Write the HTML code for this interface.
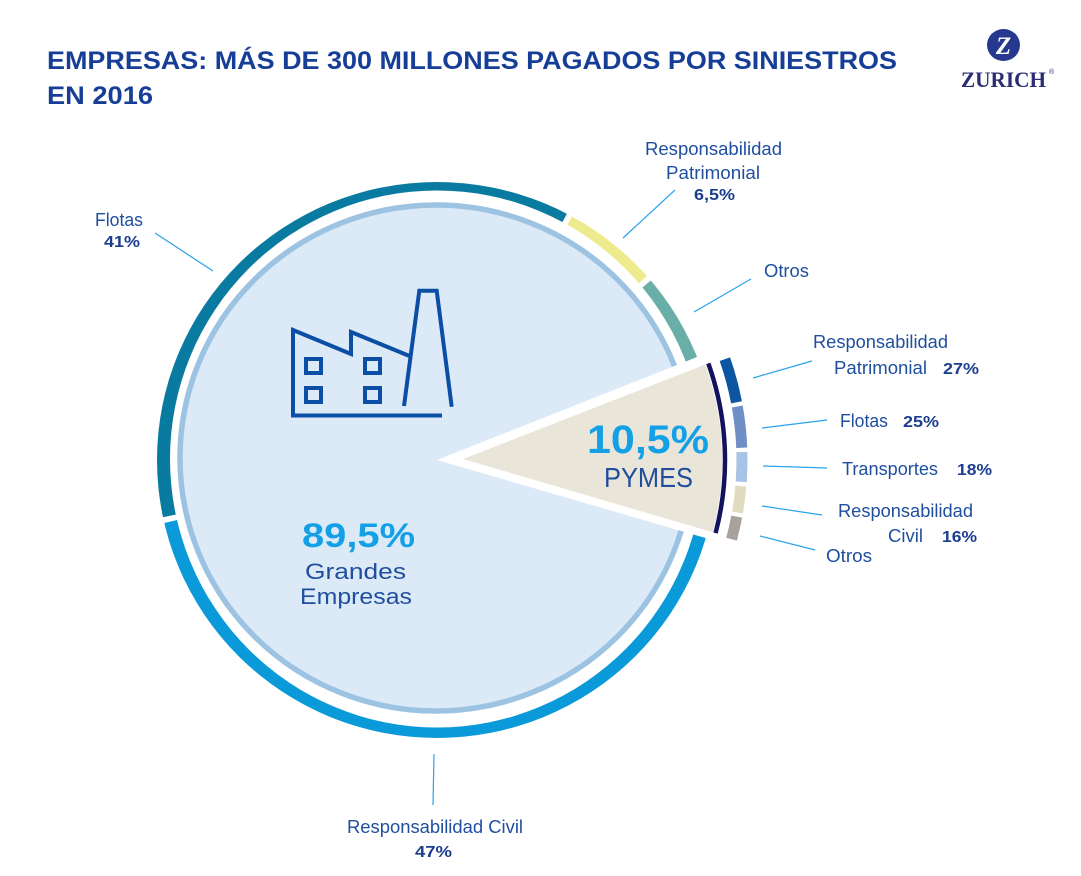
<!DOCTYPE html>
<html>
<head>
<meta charset="utf-8">
<style>
  html,body{margin:0;padding:0;background:#fff;}
  svg{display:block;}
  text{font-family:"Liberation Sans", sans-serif;}
</style>
</head>
<body>
<svg width="1081" height="876" viewBox="0 0 1081 876" xmlns="http://www.w3.org/2000/svg">
  <defs>
    <clipPath id="cFlotas"><polygon points="437,460 104.2,529.5 97,460 196.6,219.6 437,120 595.6,159.2"/></clipPath>
    <clipPath id="cYellow"><polygon points="437,460 601.8,162.6 692.8,236.0"/></clipPath>
    <clipPath id="cOtros"><polygon points="437,460 697.4,241.4 753.1,334.8"/></clipPath>
    <clipPath id="cCivil"><polygon points="437,460 763.5,554.9 607,754.4 437,800 267,754.4 105.7,536.5"/></clipPath>
  </defs>

  <!-- Title -->
  <text x="47" y="69" font-size="25" font-weight="bold" fill="#163e97" textLength="850" lengthAdjust="spacingAndGlyphs">EMPRESAS: MÁS DE 300 MILLONES PAGADOS POR SINIESTROS</text>
  <text x="47" y="104" font-size="25" font-weight="bold" fill="#163e97" textLength="106" lengthAdjust="spacingAndGlyphs">EN 2016</text>

  <!-- Zurich logo -->
  <ellipse cx="1003.5" cy="45" rx="16.5" ry="16" fill="#27398f"/>
  <text x="1003.5" y="54" font-size="25" font-weight="bold" font-style="italic" fill="#ffffff" text-anchor="middle" style="font-family:'Liberation Serif',serif;">Z</text>
  <text x="961" y="87" font-size="22" font-weight="bold" fill="#2b2d73" textLength="85" lengthAdjust="spacingAndGlyphs" style="font-family:'Liberation Serif',serif;">ZURICH</text>
  <text x="1049" y="74" font-size="7" fill="#2b2d73">®</text>

  <!-- Big light fill -->
  <ellipse cx="436" cy="458" rx="256" ry="253" fill="#dceaf7" stroke="#9dc3e3" stroke-width="5.5"/>

  <!-- white wedge cut -->
  <polygon points="437,460 808.9,312.8 880,450 821.1,571.6" fill="#ffffff"/>

  <!-- Outer ring segments -->
  <g fill-rule="evenodd">
    <path clip-path="url(#cFlotas)" fill="#0a7ba0" d="M157 460 a280 278 0 1 0 560 0 a280 278 0 1 0 -560 0 Z M170 459 a267 268.5 0 1 0 534 0 a267 268.5 0 1 0 -534 0 Z"/>
    <path clip-path="url(#cYellow)" fill="#eeea8e" d="M157 460 a280 278 0 1 0 560 0 a280 278 0 1 0 -560 0 Z M170 459 a267 268.5 0 1 0 534 0 a267 268.5 0 1 0 -534 0 Z"/>
    <path clip-path="url(#cOtros)" fill="#6aaea8" d="M157 460 a280 278 0 1 0 560 0 a280 278 0 1 0 -560 0 Z M170 459 a267 268.5 0 1 0 534 0 a267 268.5 0 1 0 -534 0 Z"/>
    <path clip-path="url(#cCivil)" fill="#0a9ad9" d="M157 460 a280 278 0 1 0 560 0 a280 278 0 1 0 -560 0 Z M170 459 a267 268.5 0 1 0 534 0 a267 268.5 0 1 0 -534 0 Z"/>
  </g>

  <!-- PYMES wedge -->
  <path d="M463 459 L705.4 364.5 A285 285 0 0 1 712.8 532.3 Z" fill="#e9e6d9"/>
  <circle cx="437" cy="460" r="288" fill="none" stroke="#12125e" stroke-width="4.5" stroke-dasharray="172.4 2000" transform="rotate(-19.6 437 460)"/>

  <!-- PYMES breakdown ring -->
  <g fill="none" stroke-width="11">
    <circle cx="437" cy="460" r="305" stroke="#0c55a0" stroke-dasharray="44.7 2000" transform="rotate(-19.3 437 460)"/>
    <circle cx="437" cy="460" r="305" stroke="#6f8fc6" stroke-dasharray="41.5 2000" transform="rotate(-10.1 437 460)"/>
    <circle cx="437" cy="460" r="305" stroke="#a7c3e6" stroke-dasharray="29.8 2000" transform="rotate(-1.5 437 460)"/>
    <circle cx="437" cy="460" r="305" stroke="#e1dcc0" stroke-dasharray="26.6 2000" transform="rotate(4.9 437 460)"/>
    <circle cx="437" cy="460" r="305" stroke="#a8a19c" stroke-dasharray="23.2 2000" transform="rotate(10.7 437 460)"/>
  </g>

  <!-- Factory icon -->
  <g fill="none" stroke="#0a4ea5" stroke-width="4" stroke-linejoin="miter">
    <path d="M293 416 L293 330 L351 354 L351 332 L409.5 356"/>
    <path d="M404 406 L419.3 290.7 L436.7 290.7 L451.7 406.7"/>
    <path d="M291 415.5 L442 415.5"/>
    <rect x="306" y="359" width="15" height="14"/>
    <rect x="306" y="388" width="15" height="14"/>
    <rect x="365" y="359" width="15" height="14"/>
    <rect x="365" y="388" width="15" height="14"/>
  </g>

  <!-- Center labels -->
  <text x="302" y="547" font-size="34" font-weight="bold" fill="#14a0e6" textLength="113" lengthAdjust="spacingAndGlyphs">89,5%</text>
  <text x="305" y="579" font-size="22.5" fill="#1f4e9f" textLength="101" lengthAdjust="spacingAndGlyphs">Grandes</text>
  <text x="300" y="604" font-size="22.5" fill="#1f4e9f" textLength="112" lengthAdjust="spacingAndGlyphs">Empresas</text>

  <text x="587" y="453" font-size="40" font-weight="bold" fill="#14a0e6" textLength="122" lengthAdjust="spacingAndGlyphs">10,5%</text>
  <text x="604" y="487" font-size="28" fill="#1f4e9f" textLength="89" lengthAdjust="spacingAndGlyphs">PYMES</text>

  <!-- Leader lines -->
  <g stroke="#29a3ec" stroke-width="1.2" fill="none">
    <line x1="155" y1="233" x2="213" y2="271"/>
    <line x1="675" y1="190" x2="623" y2="238"/>
    <line x1="751" y1="279" x2="694" y2="312"/>
    <line x1="812" y1="361" x2="753" y2="378"/>
    <line x1="827" y1="420" x2="762" y2="428"/>
    <line x1="827" y1="468" x2="763" y2="466"/>
    <line x1="822" y1="515" x2="762" y2="506"/>
    <line x1="815" y1="550" x2="760" y2="536"/>
    <line x1="434" y1="754" x2="433" y2="805"/>
  </g>

  <!-- Outer labels -->
  <g font-size="18.5" fill="#1f4e9f">
    <text x="95" y="226" textLength="48" lengthAdjust="spacingAndGlyphs">Flotas</text>
    <text x="645" y="155" textLength="137" lengthAdjust="spacingAndGlyphs">Responsabilidad</text>
    <text x="666" y="179" textLength="94" lengthAdjust="spacingAndGlyphs">Patrimonial</text>
    <text x="764" y="277" textLength="45" lengthAdjust="spacingAndGlyphs">Otros</text>
    <text x="813" y="348" textLength="135" lengthAdjust="spacingAndGlyphs">Responsabilidad</text>
    <text x="834" y="374" textLength="93" lengthAdjust="spacingAndGlyphs">Patrimonial</text>
    <text x="840" y="427" textLength="48" lengthAdjust="spacingAndGlyphs">Flotas</text>
    <text x="842" y="475" textLength="96" lengthAdjust="spacingAndGlyphs">Transportes</text>
    <text x="838" y="517" textLength="135" lengthAdjust="spacingAndGlyphs">Responsabilidad</text>
    <text x="888" y="542" textLength="35" lengthAdjust="spacingAndGlyphs">Civil</text>
    <text x="826" y="562" textLength="46" lengthAdjust="spacingAndGlyphs">Otros</text>
    <text x="347" y="833" textLength="176" lengthAdjust="spacingAndGlyphs">Responsabilidad Civil</text>
  </g>
  <g font-size="16" font-weight="bold" fill="#1a3d8f">
    <text x="104" y="247" textLength="36" lengthAdjust="spacingAndGlyphs">41%</text>
    <text x="694" y="200" textLength="41" lengthAdjust="spacingAndGlyphs">6,5%</text>
    <text x="943" y="374" textLength="36" lengthAdjust="spacingAndGlyphs">27%</text>
    <text x="903" y="427" textLength="36" lengthAdjust="spacingAndGlyphs">25%</text>
    <text x="957" y="475" textLength="35" lengthAdjust="spacingAndGlyphs">18%</text>
    <text x="942" y="542" textLength="35" lengthAdjust="spacingAndGlyphs">16%</text>
    <text x="415" y="857" textLength="37" lengthAdjust="spacingAndGlyphs">47%</text>
  </g>
</svg>
</body>
</html>
